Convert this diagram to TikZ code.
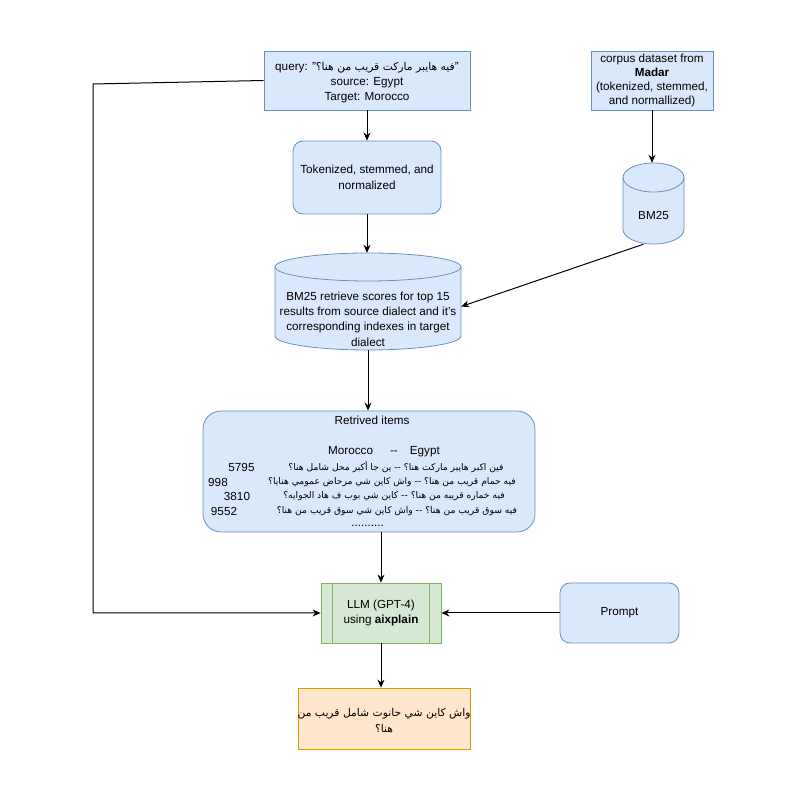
\documentclass[tikz,border=0pt]{standalone}
\usepackage{fontspec}
\setmainfont{Liberation Sans}
\newfontfamily\arabicfont[Script=Arabic,Scale=0.92]{DejaVu Sans}
\TeXXeTstate=1
\usetikzlibrary{arrows.meta,calc}
\definecolor{cBlue}{HTML}{DAE8FC}
\definecolor{cBlueD}{HTML}{6C8EBF}
\definecolor{cGreen}{HTML}{D5E8D4}
\definecolor{cGreenD}{HTML}{82B366}
\definecolor{cOrange}{HTML}{FFE6CC}
\definecolor{cOrangeD}{HTML}{D79B00}
\newcommand\myfs{\fontsize{11.7}{15}\selectfont}
\tikzset{
  txt/.style={font=\myfs, align=center, inner sep=0pt},
  bluebox/.style={draw=cBlueD, fill=cBlue, line width=0.8pt, font=\myfs, align=center, inner sep=0pt},
  roundbox/.style={bluebox, rounded corners=10pt},
  greenbox/.style={draw=cGreenD, fill=cGreen, line width=0.8pt, font=\myfs, align=center, inner sep=0pt},
  orangebox/.style={draw=cOrangeD, fill=cOrange, line width=0.8pt, font=\myfs, align=center, inner sep=0pt},
  cyl/.style={draw=cBlueD, fill=cBlue, line width=0.8pt},
  conn/.style={draw=black, line width=1pt, -{Stealth[length=8pt,width=7pt]}},
}
\begin{document}
\begin{tikzpicture}[x=1pt,y=1pt]
\useasboundingbox (0,0) rectangle (800,800);

% query
\node[bluebox, minimum width=206pt, minimum height=59pt] (query) at (367,719.5) {};
\node[txt] (querytext) at (367,717)
  {query: "{\arabicfont\beginR فيه هايبر ماركت قريب من هنا؟\endR}"\\ source: Egypt\\ Target: Morocco};

% corpus
\node[bluebox, minimum width=122pt, minimum height=59pt, font=\fontsize{11.7}{14}\selectfont] (corpus) at (652,719.5)
  {corpus dataset from\\ \textbf{Madar}\\ (tokenized, stemmed,\\ and normallized)};

% tokenized
\node[roundbox, minimum width=148pt, minimum height=73pt, font=\fontsize{11.7}{16}\selectfont] (tok) at (367,622.5)
  {Tokenized, stemmed, and\\ normalized};

% small cylinder BM25
\path[cyl] (623,622.5) -- (623,570.5) arc[start angle=180, end angle=360, x radius=30.5, y radius=14.5]
  -- (684,622.5) arc[start angle=0, end angle=180, x radius=30.5, y radius=14.5] -- cycle;
\draw[cyl, fill=none] (623,622.5) arc[start angle=180, end angle=360, x radius=30.5, y radius=14.5];
\node[txt, minimum width=61pt, minimum height=81pt] (bm) at (653.5,596.5) {};
\node[txt] (bmlabel) at (653.5,585) {BM25};

% big cylinder
\path[cyl] (275,533) -- (275,464) arc[start angle=180, end angle=360, x radius=93, y radius=14]
  -- (461,533) arc[start angle=0, end angle=180, x radius=93, y radius=14] -- cycle;
\draw[cyl, fill=none] (275,533) arc[start angle=180, end angle=360, x radius=93, y radius=14];
\node[txt, minimum width=186pt, minimum height=97pt] (big) at (368,498.5) {};
\node[txt, font=\fontsize{11.7}{15.3}\selectfont] (biglabel) at (368,481)
  {BM25 retrieve scores for top 15\\ results from source dialect and it's\\ corresponding indexes in target\\ dialect};

% retrieved
\node[bluebox, rounded corners=18pt, minimum width=332pt, minimum height=121pt] (ret) at (369,328.5) {};
\node[txt] (rettitle) at (372,380) {Retrived items};
\node[txt] (retcols) at (384,348) {Morocco\hspace{17pt}-{}-\hspace{12pt}Egypt};
\node[txt] (n1) at (241.5,333) {5795};
\node[txt] (n2) at (218,318) {998};
\node[txt] (n3) at (237,304) {3810};
\node[txt] (n4) at (224,289) {9552};
\node[txt, font=\arabicfont] (a1) at (396,333) {\beginR فين اكبر هايبر ماركت هنا؟ -{}- ين جا أكبر محل شامل هنا؟\endR};
\node[txt, font=\arabicfont] (a2) at (392,318) {\beginR فيه حمام قريب من هنا؟ -{}- واش كاين شي مرحاض عمومي هنايا؟\endR};
\node[txt, font=\arabicfont] (a3) at (394,304) {\beginR فيه خماره قريبه من هنا؟ -{}- كاين شي بوب ف هاد الجوايه؟\endR};
\node[txt, font=\arabicfont] (a4) at (397,289) {\beginR فيه سوق قريب من هنا؟ -{}- واش كاين شي سوق قريب من هنا؟\endR};
\node[txt] (dots) at (367.5,274) {..........};

% LLM
\node[greenbox, minimum width=120pt, minimum height=60pt] (llm) at (381,187)
  {LLM (GPT-4)\\ using \textbf{aixplain}};
\draw[draw=cGreenD, line width=0.8pt] ([xshift=12pt]llm.north west) -- ([xshift=12pt]llm.south west);
\draw[draw=cGreenD, line width=0.8pt] ([xshift=-12pt]llm.north east) -- ([xshift=-12pt]llm.south east);

% prompt
\node[roundbox, minimum width=119pt, minimum height=60pt] (prompt) at (619.5,187) {Prompt};

% output
\node[orangebox, minimum width=172pt, minimum height=61pt, font=\fontsize{11.7}{16}\selectfont] (out) at (384,81.5) {};
\node[txt, font=\fontsize{11.7}{16}\selectfont] (outtext) at (384,79.5)
  {{\arabicfont\beginR واش كاين شي حانوت شامل قريب من\endR}\\ {\arabicfont\beginR هنا؟\endR}};

% connectors
\draw[conn] (query.south) -- (tok.north);
\draw[conn] (tok.south) -- (tok.south |- big.north);
\draw[conn] (corpus.south) -- (corpus.south |- bm.north);
\draw[conn] ([xshift=-10pt]bm.south) -- ([yshift=-5pt]big.east);
\draw[conn] (big.south) -- (big.south |- ret.north);
\draw[conn] (llm.north |- ret.south) -- (llm.north);
\coordinate (c1) at (93,716);
\coordinate (c2) at (93,187);
\draw[conn] (query.west) -- (c1) -- (c2) -- (llm.west);
\draw[conn] (prompt.west) -- (llm.east);
\draw[conn] (llm.south) -- (llm.south |- out.north);
\end{tikzpicture}
\end{document}
